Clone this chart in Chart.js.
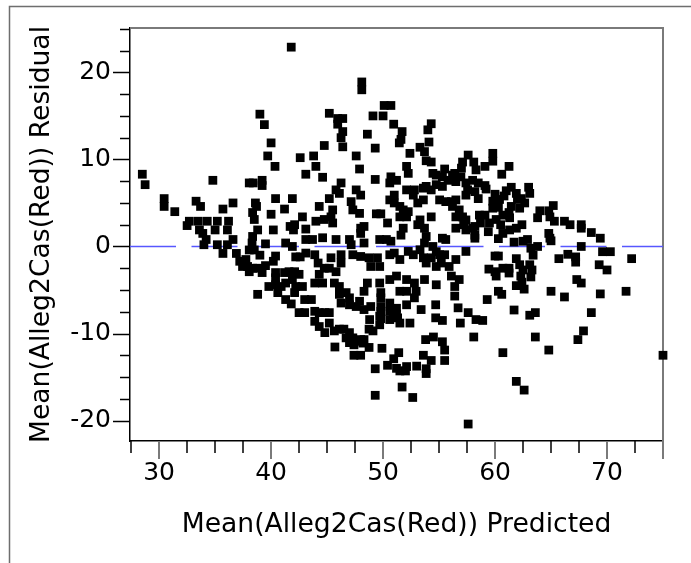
<!DOCTYPE html>
<html>
<head>
<meta charset="utf-8">
<title>Residual by Predicted Plot</title>
<script src="https://cdn.jsdelivr.net/npm/chart.js@4.4.1/dist/chart.umd.min.js"></script>
<style>
  html, body { margin: 0; padding: 0; background: #fff; }
  #wrap { position: relative; width: 691px; height: 563px; }
</style>
</head>
<body>
<div id="wrap"><canvas id="chart"></canvas></div>
<script>
// Residual vs predicted, one entry per observation (same order in both arrays)
const predicted = [
  28.5, 28.75, 30.45, 30.45, 31.4, 33.3, 33.7, 34.8, 32.7, 32.5,
  33.5, 34.3, 35.2, 36.2, 35.7, 36.6, 33.6, 33.9, 35.0, 36.1,
  34.2, 34.0, 35.2, 36.1, 36.6, 35.7, 36.9, 38.05, 38.4, 39.2,
  39.2, 40.0, 39.7, 40.35, 42.6, 43.1, 39.0, 39.4, 38.6, 38.7,
  38.35, 38.5, 38.8, 40.0, 40.4, 41.2, 41.9, 40.2, 38.35, 38.3,
  38.05, 38.5, 39.5, 41.3, 41.9, 42.0, 42.1, 42.8, 42.2, 42.6,
  40.4, 40.2, 37.2, 37.45, 37.9, 38.05, 38.35, 38.8, 39.2, 37.75,
  40.4, 40.4, 41.2, 41.6, 42.1, 42.5, 41.9, 39.8, 40.4, 40.9,
  41.3, 42.2, 42.8, 38.8, 40.6, 41.3, 41.8, 42.1, 41.8, 41.7,
  39.5, 39.0, 48.1, 48.1, 45.2, 45.95, 46.4, 45.95, 46.4, 46.25,
  44.75, 46.4, 49.1, 50.0, 50.1, 50.7, 50.95, 48.6, 51.7, 51.6,
  51.45, 49.3, 54.3, 54.0, 54.1, 53.3, 53.7, 52.4, 43.8, 47.6,
  44.0, 44.6, 47.9, 49.3, 52.1, 52.25, 50.7, 51.2, 50.6, 53.85,
  54.3, 54.45, 54.75, 55.5, 56.4, 57.6, 57.1, 58.1, 58.3, 57.0,
  46.25, 45.8, 46.1, 47.6, 48.0, 47.15, 45.2, 45.5, 45.35, 45.5,
  44.3, 44.75, 44.0, 43.1, 47.3, 47.9, 49.4, 49.8, 48.0, 48.3,
  48.0, 47.0, 47.15, 45.8, 44.6, 43.7, 43.1, 49.7, 50.3, 50.7,
  48.3, 50.6, 51.0, 51.5, 51.0, 51.8, 52.25, 52.1, 51.5, 51.8,
  51.6, 50.4, 53.1, 53.6, 52.7, 52.1, 52.8, 53.6, 53.85, 54.3,
  54.75, 55.3, 53.3, 53.1, 53.7, 53.85, 53.7, 54.45, 54.75, 55.05,
  55.3, 55.6, 54.3, 55.05, 55.6, 56.1, 56.5, 56.2, 56.8, 56.5,
  57.1, 57.4, 57.2, 56.5, 57.4, 58.0, 58.2, 55.3, 55.8, 56.2,
  56.5, 56.95, 57.4, 58.0, 57.55, 57.4, 58.2, 58.5, 43.1, 43.9,
  44.2, 44.75, 44.3, 45.35, 45.2, 46.25, 46.25, 45.8, 47.3, 48.0,
  48.75, 49.5, 48.9, 49.7, 50.6, 51.0, 51.5, 52.25, 52.7, 53.3,
  53.6, 53.85, 54.3, 54.75, 55.2, 55.5, 55.9, 56.5, 57.4, 43.9,
  44.6, 45.65, 46.1, 48.6, 49.7, 50.6, 51.2, 52.1, 52.8, 53.7,
  54.75, 56.1, 56.4, 56.8, 49.3, 49.3, 51.7, 52.65, 50.4, 51.2,
  51.5, 52.0, 52.1, 53.0, 53.6, 53.85, 53.85, 54.3, 55.5, 55.5,
  55.3, 54.5, 53.8, 50.95, 51.4, 49.9, 47.4, 48.0, 45.7, 48.3,
  48.75, 47.4, 48.2, 48.75, 49.1, 49.7, 49.8, 50.6, 51.3, 51.5,
  52.4, 49.8, 50.6, 51.2, 52.1, 51.5, 52.1, 52.8, 52.95, 53.4,
  54.7, 54.7, 55.3, 56.4, 56.7, 56.9, 57.6, 58.3, 58.1, 43.0,
  43.6, 42.5, 43.0, 43.9, 44.3, 44.8, 45.2, 43.9, 44.3, 44.8,
  45.2, 45.65, 46.1, 46.5, 47.0, 46.7, 47.3, 47.6, 48.0, 47.0,
  46.1, 46.7, 47.0, 46.25, 47.0, 47.6, 47.9, 48.3, 48.9, 48.3,
  48.8, 49.7, 49.8, 49.8, 49.8, 50.6, 50.9, 51.2, 57.6, 59.8,
  59.8, 59.1, 61.25, 60.6, 58.5, 59.1, 63.0, 63.1, 61.45, 61.0,
  61.9, 62.35, 62.65, 62.2, 61.45, 61.25, 60.7, 61.3, 64.0, 63.8,
  64.8, 65.2, 64.9, 65.3, 66.2, 66.7, 67.7, 67.7, 68.6, 69.4,
  67.7, 69.6, 70.3, 72.2, 65.7, 66.5, 67.2, 67.2, 69.3, 70.0,
  64.8, 64.9, 65.0, 62.9, 62.5, 63.2, 63.8, 63.4, 60.0, 60.3,
  61.9, 62.2, 62.5, 63.1, 63.3, 63.2, 59.45, 60.0, 60.1, 60.7,
  61.25, 61.25, 62.3, 62.4, 61.9, 62.6, 67.3, 67.7, 58.2, 58.2,
  58.6, 58.7, 59.1, 59.2, 59.4, 59.5, 59.8, 59.8, 60.0, 60.1,
  60.3, 60.3, 60.4, 60.5, 60.7, 60.8, 61.3, 61.7, 61.9, 62.0,
  62.4, 65.0, 66.2, 69.4, 71.7, 68.6, 67.9, 67.4, 64.8, 75.0,
  60.7, 61.9, 62.6, 63.6, 63.1, 63.6, 61.7, 60.3, 60.6, 59.3, 58.9
];
const residual = [
  8.3, 7.1, 5.5, 4.6, 4.0, 5.2, 4.6, 7.6, 2.9, 2.4,
  2.9, 2.9, 2.9, 2.9, 4.3, 5.0, 1.9, 1.5, 1.9, 1.9,
  0.8, 0.2, 0.2, 0.2, 0.8, -0.8, -0.8, 7.3, 7.3, 7.6,
  7.0, 11.9, 10.4, 9.2, 10.2, 8.3, 15.2, 14.0, 5.0, 4.6,
  3.9, 3.1, 1.9, 3.7, 5.5, 4.3, 5.5, 1.9, 1.15, 0.4,
  -0.4, -0.4, 0.3, 0.4, 0.0, 1.9, 2.5, 3.4, -1.2, -1.2,
  -1.1, -1.7, -1.7, -2.3, -2.3, -2.9, -2.5, -2.5, -3.0, -1.5,
  -3.0, -3.6, -3.0, -2.9, -2.9, -3.2, -3.8, -4.6, -4.4, -4.6,
  -4.2, -4.6, -4.6, -5.5, -5.3, -6.1, -6.6, -5.3, 22.9, 2.3,
  -2.2, -1.0, 18.9, 18.0, 15.3, 14.7, 14.7, 14.05, 13.2, 12.5,
  11.6, 11.45, 15.0, 15.0, 16.2, 16.2, 14.05, 12.9, 13.2, 12.3,
  11.9, 11.3, 14.1, 13.4, 12.0, 11.4, 10.9, 10.7, 10.4, 10.4,
  9.2, 7.95, 8.9, 7.7, 9.2, 8.4, 8.0, 7.6, 7.3, 9.85,
  9.7, 8.4, 8.2, 8.9, 8.4, 10.5, 9.7, 9.7, 8.8, 9.0,
  7.3, 6.5, 6.1, 6.5, 5.9, 5.15, 5.5, 4.2, 3.4, 2.7,
  4.6, 3.1, 2.9, 2.0, 4.2, 3.8, 3.75, 3.75, 2.1, 2.3,
  1.5, 0.8, 0.2, 0.8, 1.0, 0.8, 0.8, 0.8, 0.8, 0.6,
  0.4, 5.35, 5.0, 4.6, 5.9, 4.2, 4.0, 3.4, 3.4, 2.1,
  1.3, 2.7, 5.0, 5.35, 5.9, 6.5, 6.5, 6.7, 6.9, 6.5,
  7.1, 6.9, 3.05, 2.5, 2.1, 1.15, 0.4, 0.0, -0.6, -0.95,
  0.95, 0.8, 3.4, 5.35, 5.15, 5.15, 5.35, 4.6, 4.2, 3.4,
  3.4, 3.05, 2.5, 2.1, 1.9, 2.1, 0.95, 8.0, 7.6, 8.2,
  7.45, 8.0, 7.3, 7.6, 6.5, 5.9, 6.3, 5.5, -0.76, -0.95,
  -1.9, -2.5, -3.2, -1.3, -2.5, -0.95, -1.9, -2.9, -0.95, -1.15,
  -1.3, -1.3, -2.3, -2.3, -0.95, -0.76, -1.5, -0.57, -0.95, -0.38,
  -1.3, -1.9, -1.3, -2.3, -1.9, -0.95, -2.3, -1.5, -0.57, -4.2,
  -4.2, -4.2, -4.6, -4.2, -4.2, -3.8, -3.4, -3.8, -4.2, -3.8,
  -4.4, -3.4, -4.6, -3.8, -14.05, -17.1, -16.15, -17.35, -13.65, -14.0,
  -14.3, -14.3, -13.8, -13.75, -12.5, -14.05, -14.6, -13.1, -13.1, -11.9,
  -10.95, -10.4, -10.7, -12.9, -12.2, -11.7, -12.5, -12.5, -11.55, -10.7,
  -11.6, -11.3, -11.1, -9.5, -9.7, -9.0, -8.3, -8.4, -8.2, -8.8,
  -8.8, -7.45, -6.5, -7.1, -6.7, -5.15, -5.15, -5.9, -5.15, -7.25,
  -6.7, -8.2, -8.5, -5.7, -7.05, -8.8, -7.6, -8.4, -10.4, -6.1,
  -6.1, -7.6, -7.6, -7.45, -7.6, -7.6, -7.6, -8.6, -9.2, -9.9,
  -8.8, -9.7, -9.5, -9.5, -9.9, -10.5, -10.5, -10.9, -10.7, -11.05,
  -5.5, -5.3, -5.9, -6.5, -6.7, -6.9, -6.3, -7.25, -6.9, -5.15,
  -8.4, -8.0, -6.9, -5.9, -5.3, -7.45, -7.6, -7.8, -20.4, 10.7,
  9.8, 9.2, 9.2, 8.3, 7.3, 7.0, 6.8, 6.1, 6.8, 6.4,
  6.1, 5.5, 5.0, 4.4, 4.6, 3.9, 3.6, 3.3, 4.1, 3.3,
  4.1, 4.7, 3.4, 2.9, 2.9, 2.5, 2.5, 2.1, 1.6, 0.95,
  0.0, -0.6, -0.6, -1.4, -1.4, -0.9, -1.2, -1.8, -2.1, -2.7,
  1.5, 0.95, 0.65, 0.8, 0.6, -0.2, 0.0, -1.0, -1.1, -1.1,
  -1.4, -2.1, -2.7, -2.1, -2.7, -3.5, -2.6, -2.9, -3.4, -2.5,
  -2.5, -3.05, -3.4, -4.1, -4.5, -4.9, -3.8, -4.2, 1.3, 2.3,
  3.6, 2.7, 3.6, 6.6, 1.7, 2.7, 5.2, 4.4, 6.0, 3.1,
  4.5, 0.9, 5.4, 2.5, 1.5, 5.8, 1.9, 0.5, 2.1, 5.4,
  2.5, -5.15, -5.8, -5.45, -5.15, -7.6, -9.7, -10.7, -11.9, -12.5,
  -12.2, -15.5, -16.5, -10.4, -7.9, -7.6, -7.3, -5.15, -5.5, -6.1, -8.5
];

// axis ticks: labelled values and the full set of tick marks
const xTickValues = [30, 40, 50, 60, 70];
const xTickMarks = [27.5, 30, 32.5, 35, 37.5, 40, 42.5, 45, 47.5, 50, 52.5, 55,
                    57.5, 60, 62.5, 65, 67.5, 70, 72.5, 75];
const xMajorMarks = [30, 40, 50, 60, 70, 75];
const yTickValues = [-20, -10, 0, 10, 20];
const yTickMarks = [-20, -17.5, -15, -12.5, -10, -7.5, -5, -2.5, 0, 2.5, 5, 7.5,
                    10, 12.5, 15, 17.5, 20, 22.5, 25];

const xRange = [27.4, 75];
const yRange = [-22.35, 25.1];

const points = predicted.map((p, i) => ({ x: p, y: residual[i] }));

const tickFont = { family: 'DejaVu Sans', size: 25 };
const titleFont = { family: 'DejaVu Sans', size: 26.6 };

// frame lines, plot border and tick marks (major ticks longer)
const axisFrame = {
  id: 'axisFrame',
  beforeDraw(chart) {
    const ctx = chart.ctx;
    ctx.save();
    ctx.fillStyle = '#fff';
    ctx.fillRect(0, 0, chart.width, chart.height);
    ctx.restore();
  },
  beforeDatasetsDraw(chart) {
    const { ctx, chartArea: a, scales: { x, y } } = chart;
    ctx.save();
    ctx.strokeStyle = '#6e6e6e';
    ctx.lineWidth = 1.5;
    ctx.beginPath();
    ctx.moveTo(9.5, chart.height);
    ctx.lineTo(9.5, 6.5);
    ctx.lineTo(chart.width, 6.5);
    ctx.stroke();

    ctx.strokeStyle = '#7a7a7a';
    ctx.lineWidth = 2;
    ctx.beginPath();
    ctx.moveTo(a.left, a.top);
    ctx.lineTo(a.right, a.top);
    ctx.lineTo(a.right, a.bottom);
    ctx.stroke();

    ctx.strokeStyle = '#000';
    ctx.lineWidth = 1.5;
    yTickMarks.forEach(v => {
      const py = Math.round(y.getPixelForValue(v)) + 0.5;
      const len = yTickValues.includes(v) ? 17 : 10;
      ctx.beginPath();
      ctx.moveTo(a.left - len, py);
      ctx.lineTo(a.left, py);
      ctx.stroke();
    });

    xTickMarks.forEach(v => {
      const px = Math.round(x.getPixelForValue(v));
      const major = xMajorMarks.includes(v);
      ctx.strokeStyle = major ? '#7a7a7a' : '#000';
      ctx.lineWidth = major ? 2 : 1.5;
      ctx.beginPath();
      ctx.moveTo(px, a.bottom);
      ctx.lineTo(px, a.bottom + (major ? 18 : 12));
      ctx.stroke();
    });
    ctx.restore();
  }
};

new Chart(document.getElementById('chart'), {
  data: {
    datasets: [
      {
        type: 'scatter',
        data: points,
        backgroundColor: '#000',
        borderColor: '#000',
        borderWidth: 0,
        pointStyle: 'rect',
        pointRadius: 6.2,
        pointHoverRadius: 6.2,
        clip: false,
        order: 1
      },
      {
        type: 'line',
        data: [{ x: xRange[0], y: 0 }, { x: xRange[1], y: 0 }],
        borderColor: '#5757ff',
        borderWidth: 1.4,
        borderDash: [46, 15.5],
        pointRadius: 0,
        order: 2
      }
    ]
  },
  options: {
    responsive: true,
    maintainAspectRatio: false,
    animation: false,
    layout: { padding: { top: 28, right: 28, left: 0, bottom: 0 } },
    plugins: {
      legend: { display: false },
      tooltip: { enabled: false }
    },
    scales: {
      x: {
        type: 'linear',
        min: xRange[0],
        max: xRange[1],
        afterBuildTicks: s => { s.ticks = xTickValues.map(v => ({ value: v })); },
        afterFit: s => { s.height = 122; s.paddingLeft = 0; s.paddingRight = 0; },
        grid: { display: false, drawTicks: false },
        border: { display: true, color: '#000', width: 1.5 },
        ticks: { padding: 17, color: '#000', font: tickFont, maxRotation: 0, autoSkip: false },
        title: {
          display: true,
          text: 'Mean(Alleg2Cas(Red)) Predicted',
          color: '#000',
          font: titleFont,
          padding: { top: 0, bottom: 22 }
        }
      },
      y: {
        type: 'linear',
        min: yRange[0],
        max: yRange[1],
        afterBuildTicks: s => { s.ticks = yTickValues.map(v => ({ value: v })); },
        afterFit: s => { s.width = 130; s.paddingTop = 0; s.paddingBottom = 0; },
        grid: { display: false, drawTicks: false },
        border: { display: true, color: '#000', width: 1.5 },
        ticks: { padding: 19, color: '#000', font: tickFont, autoSkip: false },
        title: {
          display: true,
          text: 'Mean(Alleg2Cas(Red)) Residual',
          color: '#000',
          font: titleFont,
          padding: { top: 26, bottom: 0 }
        }
      }
    }
  },
  plugins: [axisFrame]
});
</script>
</body>
</html>
